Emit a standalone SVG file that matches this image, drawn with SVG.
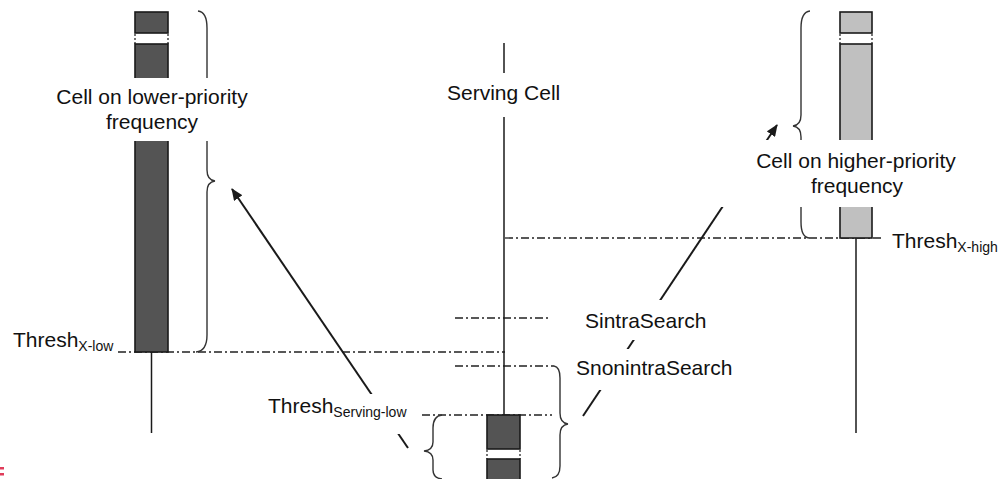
<svg xmlns="http://www.w3.org/2000/svg" width="999" height="479" viewBox="0 0 999 479">
  <style>
    text { font-family: "Liberation Sans", Arial, sans-serif; font-size: 21px; fill: #111; }
    .sub { font-size: 14px; }
    .mid { text-anchor: middle; }
    .bg { fill: #fff; stroke: none; }
    .dark { fill: #545454; stroke: #1a1a1a; stroke-width: 1.6; }
    .light { fill: #c0c0c0; stroke: #1a1a1a; stroke-width: 1.6; }
    .gap { stroke: #1a1a1a; stroke-width: 1.2; stroke-dasharray: 2 2; }
    .stem { stroke: #1a1a1a; stroke-width: 1.5; fill: none; }
    .brace { stroke: #333; stroke-width: 1.4; fill: none; }
    .thr { stroke: #222; stroke-width: 1.3; stroke-dasharray: 8 3 2 3; fill: none; }
    .arrow { stroke: #1a1a1a; stroke-width: 2; fill: none; marker-end: url(#head); }
  </style>
  <defs>
    <marker id="head" viewBox="0 0 12 10" refX="11" refY="5" markerWidth="12" markerHeight="10" markerUnits="userSpaceOnUse" orient="auto">
      <path d="M0,0 L12,5 L0,10 Z" fill="#1a1a1a"/>
    </marker>
  </defs>

  <!-- threshold levels (dash-dot) -->
  <g id="thresholds">
    <line class="thr" x1="505" y1="238" x2="882" y2="238"/>
    <line class="thr" x1="455" y1="318" x2="548" y2="318"/>
    <line class="thr" x1="118" y1="352" x2="505" y2="352"/>
    <line class="thr" x1="455" y1="366" x2="554" y2="366"/>
    <line class="thr" x1="422" y1="415" x2="552" y2="415"/>
  </g>

  <!-- reselection arrows -->
  <g id="connectors">
    <line class="arrow" x1="408" y1="448" x2="232" y2="189"/>
    <line class="arrow" x1="583" y1="416" x2="777" y2="125"/>
  </g>

  <!-- lower-priority neighbour cell -->
  <g id="low-cell">
    <line class="stem" x1="151.5" y1="352" x2="151.5" y2="433"/>
    <rect class="dark" x="135" y="12" width="33" height="21"/>
    <rect class="dark" x="135" y="44" width="33" height="308"/>
    <line class="gap" x1="135" y1="34" x2="135" y2="44"/>
    <line class="gap" x1="168" y1="34" x2="168" y2="44"/>
    <path class="brace" d="M198,11 Q207,12 207,28 L207,170 Q207,180 215,181 Q207,182 207,192 L207,335 Q207,351 196,352"/>
    <rect class="bg" x="45" y="78" width="215" height="63"/>
    <text class="mid" x="152" y="104">Cell on lower-priority</text>
    <text class="mid" x="152" y="129">frequency</text>
  </g>

  <!-- serving cell -->
  <g id="serving-cell">
    <line class="stem" x1="504" y1="43" x2="504" y2="415"/>
    <rect class="bg" x="440" y="73" width="130" height="44"/>
    <text x="447" y="100">Serving Cell</text>
    <rect class="dark" x="487" y="415" width="33" height="34"/>
    <rect class="dark" x="487" y="459" width="33" height="24"/>
    <line class="gap" x1="487" y1="450" x2="487" y2="459"/>
    <line class="gap" x1="520" y1="450" x2="520" y2="459"/>
    <path class="brace" d="M442,415 Q433,416 433,428 L433,442 Q433,450 424,451 Q433,452 433,460 L433,470 Q433,478 442,479"/>
    <path class="brace" d="M554,366 Q560,367 560,378 L560,413 Q560,423 568,424 Q560,425 560,435 L560,466 Q560,477 552,478"/>
  </g>

  <!-- higher-priority neighbour cell -->
  <g id="high-cell">
    <line class="stem" x1="856" y1="238" x2="856" y2="433"/>
    <rect class="light" x="840" y="12" width="32" height="21"/>
    <rect class="light" x="840" y="44" width="32" height="194"/>
    <line class="gap" x1="840" y1="34" x2="840" y2="44"/>
    <line class="gap" x1="872" y1="34" x2="872" y2="44"/>
    <path class="brace" d="M810,11 Q801,12 801,28 L801,115 Q801,125 793,126 Q801,127 801,137 L801,222 Q801,237 809,238"/>
    <rect class="bg" x="715" y="140" width="250" height="67"/>
    <text class="mid" x="856" y="168">Cell on higher-priority</text>
    <text class="mid" x="857" y="193">frequency</text>
  </g>

  <!-- threshold labels -->
  <g id="labels">
    <text x="892" y="248">Thresh<tspan class="sub" dy="4">X-high</tspan></text>
    <text x="13" y="347">Thresh<tspan class="sub" dy="4">X-low</tspan></text>
    <rect class="bg" x="262" y="394" width="150" height="40"/>
    <text x="268" y="413">Thresh<tspan class="sub" dy="4">Serving-low</tspan></text>
    <rect class="bg" x="578" y="300" width="140" height="40"/>
    <text x="585" y="328">SintraSearch</text>
    <rect class="bg" x="570" y="349" width="170" height="41"/>
    <text x="576" y="375">SnonintraSearch</text>
  </g>

  <!-- corner mark -->
  <g id="corner-mark">
    <rect x="0" y="467" width="4" height="2.5" fill="#e03c5a"/>
    <rect x="0" y="473" width="4" height="2.5" fill="#e03c5a"/>
  </g>
</svg>
